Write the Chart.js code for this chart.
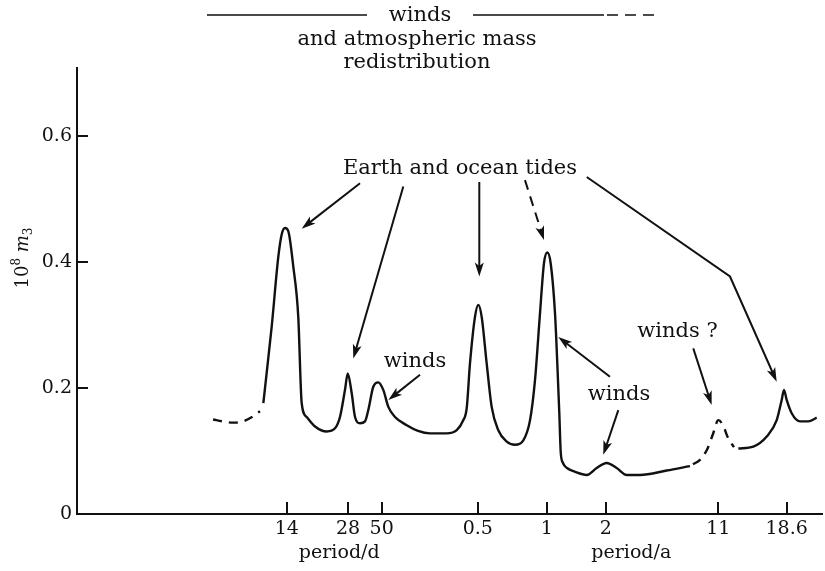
<!DOCTYPE html>
<html>
<head>
<meta charset="utf-8">
<script src="https://cdn.jsdelivr.net/npm/chart.js@4.4.0/dist/chart.umd.min.js"></script>
<style>
  html, body { margin: 0; padding: 0; background: #fff; }
</style>
</head>
<body>
<canvas id="myChart" width="825" height="571"></canvas>
<script>
// x is a schematic position along the period axis (0..100), y is 10^8 m3
var xTicks = [28.15, 36.38, 40.9, 53.79, 63.05, 70.97, 86.08, 95.26];
var xTickLabels = ["14", "28", "50", "0.5", "1", "2", "11", "18.6"];
var yTicks = [0, 0.2, 0.4, 0.6];
var yTickLabels = ["0", "0.2", "0.4", "0.6"];

// dashed tail left of the fortnightly peak
var tailX = [18.26, 19.60, 20.94, 22.28, 23.49, 24.56];
var tailY = [0.150, 0.147, 0.145, 0.147, 0.154, 0.163];

// main solid curve: 14 d, 28 d, 50 d, 0.5 a, 1 a, 2 a
var mainX = [25.01, 26.13, 27.02, 27.48, 27.92, 28.36, 29.03, 29.70, 30.16, 30.83,
  31.95, 33.52, 34.63, 35.30, 35.97, 36.34, 36.87, 37.32, 37.99, 38.66,
  39.10, 39.77, 40.44, 41.11, 41.79, 42.68, 44.26, 45.77, 47.38, 49.62,
  50.97, 51.81, 52.31, 52.75, 53.42, 53.87, 54.32, 54.99, 55.66, 56.55,
  57.68, 58.79, 59.91, 60.81, 61.48, 62.15, 62.68, 63.13, 63.58, 64.16,
  64.47, 64.74, 64.93, 65.23, 65.77, 66.85, 68.42, 69.76, 71.10, 72.44,
  73.79, 75.57, 79.15, 82.28];
var mainY = [0.176, 0.297, 0.408, 0.444, 0.454, 0.449, 0.393, 0.313, 0.176, 0.154,
  0.139, 0.131, 0.136, 0.154, 0.197, 0.223, 0.192, 0.154, 0.144, 0.147,
  0.165, 0.202, 0.209, 0.197, 0.170, 0.154, 0.141, 0.132, 0.128, 0.128,
  0.133, 0.148, 0.168, 0.239, 0.313, 0.332, 0.313, 0.239, 0.170, 0.133,
  0.115, 0.110, 0.117, 0.149, 0.213, 0.319, 0.398, 0.415, 0.398, 0.319,
  0.239, 0.160, 0.098, 0.081, 0.073, 0.067, 0.062, 0.073, 0.081, 0.073,
  0.062, 0.062, 0.069, 0.076];

// dashed 11 a bump
var solarX = [82.68, 83.62, 84.56, 85.37, 86.08, 86.71, 87.38, 88.19];
var solarY = [0.079, 0.086, 0.102, 0.127, 0.149, 0.141, 0.121, 0.106];

// 18.6 a nodal tide
var nodalX = [88.77, 90.78, 92.58, 93.92, 94.59, 94.90, 95.26, 95.93, 97.05, 98.16, 99.29];
var nodalY = [0.104, 0.107, 0.123, 0.149, 0.181, 0.197, 0.181, 0.160, 0.147, 0.147, 0.153];

function pts(xs, ys) {
  return xs.map(function (x, i) { return { x: x, y: ys[i] }; });
}

// annotations in data units
var labels = [
  { text: "Earth and ocean tides", x: 51.41, y: 0.549 },
  { text: "winds", x: 45.37, y: 0.242 },
  { text: "winds", x: 72.75, y: 0.189 },
  { text: "winds ?", x: 80.60, y: 0.289 }
];
var arrows = [
  { p: [[37.99, 0.525], [30.16, 0.453]] },
  { p: [[43.80, 0.520], [37.09, 0.247]] },
  { p: [[46.04, 0.221], [41.79, 0.181]] },
  { p: [[54.0, 0.527], [54.0, 0.377]] },
  { p: [[60.13, 0.530], [62.68, 0.435]], dash: true },
  { p: [[68.42, 0.535], [87.65, 0.377], [93.92, 0.210]] },
  { p: [[71.54, 0.218], [64.60, 0.281]] },
  { p: [[72.66, 0.165], [70.64, 0.094]] },
  { p: [[82.72, 0.263], [85.19, 0.173]] }
];

var ink = "#111";
var serif = "'DejaVu Serif', 'Liberation Serif', serif";

function drawArrow(ctx, p, dashed) {
  var n = p.length;
  var a = p[n - 2], b = p[n - 1];
  var ang = Math.atan2(b[1] - a[1], b[0] - a[0]);
  var len = 14, half = 4.5;
  ctx.save();
  ctx.strokeStyle = ink;
  ctx.fillStyle = ink;
  ctx.lineWidth = 2;
  ctx.setLineDash(dashed ? [10, 7] : []);
  ctx.beginPath();
  ctx.moveTo(p[0][0], p[0][1]);
  for (var i = 1; i < n - 1; i++) ctx.lineTo(p[i][0], p[i][1]);
  ctx.lineTo(b[0] - Math.cos(ang) * len * 0.7, b[1] - Math.sin(ang) * len * 0.7);
  ctx.stroke();
  ctx.setLineDash([]);
  ctx.beginPath();
  ctx.moveTo(b[0], b[1]);
  ctx.lineTo(b[0] - Math.cos(ang) * len - Math.sin(ang) * half, b[1] - Math.sin(ang) * len + Math.cos(ang) * half);
  ctx.lineTo(b[0] - Math.cos(ang) * len * 0.75, b[1] - Math.sin(ang) * len * 0.75);
  ctx.lineTo(b[0] - Math.cos(ang) * len + Math.sin(ang) * half, b[1] - Math.sin(ang) * len - Math.cos(ang) * half);
  ctx.closePath();
  ctx.fill();
  ctx.restore();
}

var annotate = {
  id: "annotate",
  afterDraw: function (chart) {
    var ctx = chart.ctx;
    var xs = chart.scales.x, ys = chart.scales.y, area = chart.chartArea;

    ctx.save();
    ctx.strokeStyle = ink;
    ctx.lineWidth = 2;
    // inward tick marks
    ys.ticks.forEach(function (t) {
      if (t.value === 0) return;
      var py = Math.round(ys.getPixelForValue(t.value));
      ctx.beginPath();
      ctx.moveTo(area.left, py);
      ctx.lineTo(area.left + 11, py);
      ctx.stroke();
    });
    xs.ticks.forEach(function (t) {
      var px = Math.round(xs.getPixelForValue(t.value));
      ctx.beginPath();
      ctx.moveTo(px, area.bottom);
      ctx.lineTo(px, area.bottom - 12);
      ctx.stroke();
    });

    // header: winds and atmospheric mass redistribution
    ctx.lineWidth = 1.6;
    ctx.beginPath();
    ctx.moveTo(207, 15); ctx.lineTo(367, 15);
    ctx.moveTo(473, 15); ctx.lineTo(604, 15);
    ctx.stroke();
    ctx.setLineDash([11, 7]);
    ctx.beginPath();
    ctx.moveTo(607, 15); ctx.lineTo(656, 15);
    ctx.stroke();
    ctx.setLineDash([]);

    ctx.fillStyle = ink;
    ctx.textAlign = "center";
    ctx.textBaseline = "middle";
    ctx.font = "21px " + serif;
    ctx.fillText("winds", 420, 16);
    ctx.fillText("and atmospheric mass", 417, 40);
    ctx.fillText("redistribution", 417, 63);

    labels.forEach(function (l) {
      ctx.fillText(l.text, xs.getPixelForValue(l.x), ys.getPixelForValue(l.y));
    });

    arrows.forEach(function (a) {
      var p = a.p.map(function (q) { return [xs.getPixelForValue(q[0]), ys.getPixelForValue(q[1])]; });
      drawArrow(ctx, p, a.dash);
    });

    // axis titles
    ctx.font = "19px " + serif;
    ctx.fillText("period/d", xs.getPixelForValue(35.2), area.bottom + 39);
    ctx.fillText("period/a", xs.getPixelForValue(74.4), area.bottom + 39);

    // rotated y title: 10^8 m_3
    ctx.translate(22, 258);
    ctx.rotate(-Math.PI / 2);
    ctx.textAlign = "left";
    ctx.textBaseline = "alphabetic";
    var parts = [
      { t: "10", f: "18px " + serif, dy: 0 },
      { t: "8", f: "12px " + serif, dy: -8 },
      { t: " ", f: "18px " + serif, dy: 0 },
      { t: "m", f: "italic 18px " + serif, dy: 0 },
      { t: "3", f: "12px " + serif, dy: 4 }
    ];
    var total = 0;
    parts.forEach(function (s) { ctx.font = s.f; s.w = ctx.measureText(s.t).width; total += s.w; });
    var cx = -total / 2;
    parts.forEach(function (s) {
      ctx.font = s.f;
      ctx.fillText(s.t, cx, 6 + s.dy);
      cx += s.w;
    });
    ctx.restore();
  }
};

function curve(data, dashed) {
  return {
    data: data,
    borderColor: ink,
    borderWidth: 2.4,
    borderDash: dashed ? [9, 7] : [],
    pointRadius: 0,
    fill: false,
    cubicInterpolationMode: "monotone"
  };
}

var config = {
  type: "line",
  data: {
    datasets: [
      curve(pts(tailX, tailY), true),
      curve(pts(mainX, mainY), false),
      curve(pts(solarX, solarY), true),
      curve(pts(nodalX, nodalY), false)
    ]
  },
  options: {
    responsive: false,
    animation: false,
    layout: { padding: { top: 68, right: 3, left: 0, bottom: 0 } },
    plugins: { legend: { display: false }, tooltip: { enabled: false } },
    scales: {
      x: {
        type: "linear",
        min: 0,
        max: 100,
        afterBuildTicks: function (s) { s.ticks = xTicks.map(function (v) { return { value: v }; }); },
        afterFit: function (s) { s.height = 57; },
        grid: { display: false, drawTicks: false },
        border: { display: true, color: ink, width: 2 },
        ticks: {
          autoSkip: false,
          maxRotation: 0,
          padding: 4,
          color: ink,
          font: { family: serif, size: 19 },
          callback: function (v, i) { return xTickLabels[i]; }
        }
      },
      y: {
        min: 0,
        max: 0.708,
        afterBuildTicks: function (s) { s.ticks = yTicks.map(function (v) { return { value: v }; }); },
        afterFit: function (s) { s.width = 77; },
        grid: { display: false, drawTicks: false },
        border: { display: true, color: ink, width: 2 },
        ticks: {
          padding: 5,
          color: ink,
          font: { family: serif, size: 19 },
          callback: function (v, i) { return yTickLabels[i]; }
        }
      }
    }
  },
  plugins: [annotate]
};

var myChart = new Chart(document.getElementById("myChart"), config);
</script>
</body>
</html>
